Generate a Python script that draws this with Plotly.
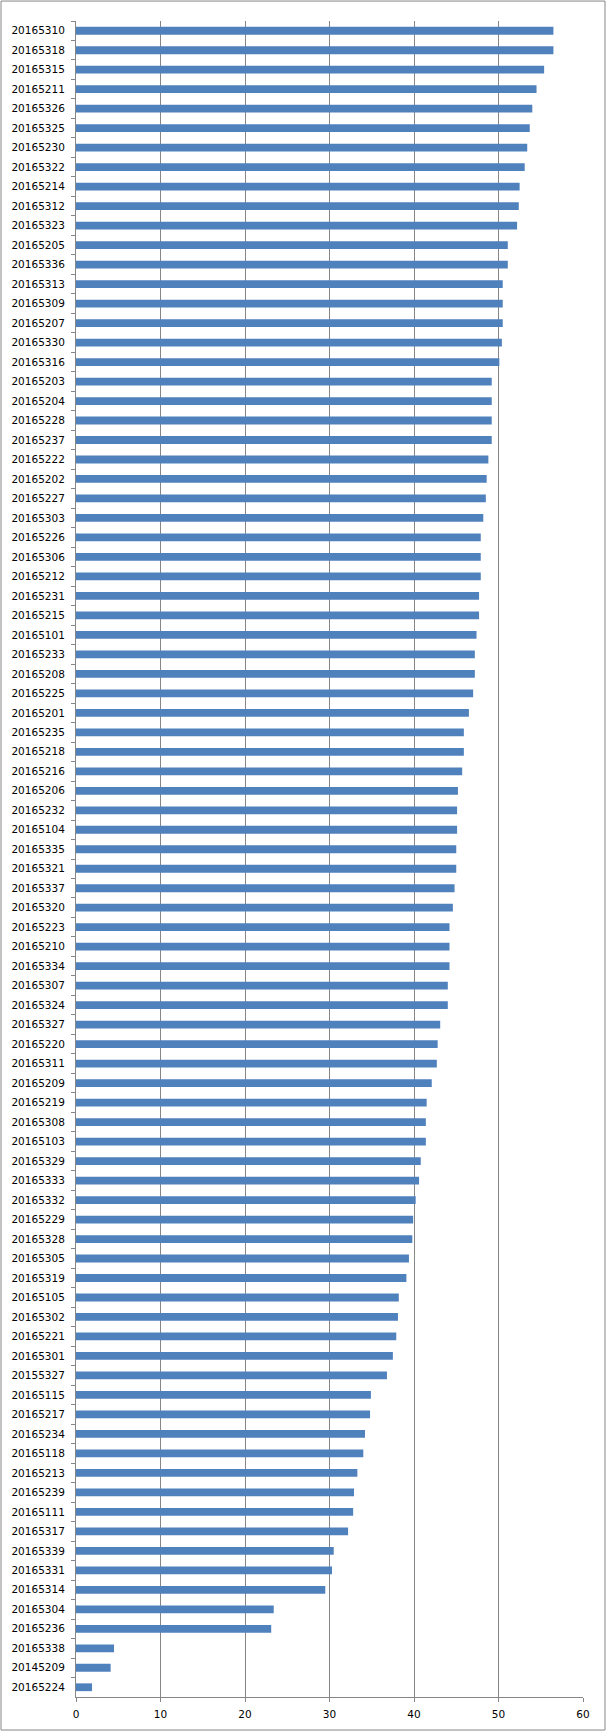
import plotly.graph_objects as go

# student ids, in the order they appear top to bottom
ids = [
    '20165310', '20165318', '20165315', '20165211', '20165326', '20165325',
    '20165230', '20165322', '20165214', '20165312', '20165323', '20165205',
    '20165336', '20165313', '20165309', '20165207', '20165330', '20165316',
    '20165203', '20165204', '20165228', '20165237', '20165222', '20165202',
    '20165227', '20165303', '20165226', '20165306', '20165212', '20165231',
    '20165215', '20165101', '20165233', '20165208', '20165225', '20165201',
    '20165235', '20165218', '20165216', '20165206', '20165232', '20165104',
    '20165335', '20165321', '20165337', '20165320', '20165223', '20165210',
    '20165334', '20165307', '20165324', '20165327', '20165220', '20165311',
    '20165209', '20165219', '20165308', '20165103', '20165329', '20165333',
    '20165332', '20165229', '20165328', '20165305', '20165319', '20165105',
    '20165302', '20165221', '20165301', '20155327', '20165115', '20165217',
    '20165234', '20165118', '20165213', '20165239', '20165111', '20165317',
    '20165339', '20165331', '20165314', '20165304', '20165236', '20165338',
    '20145209', '20165224',
]

scores = [
    56.5, 56.5, 55.4, 54.5, 54.0, 53.7,
    53.4, 53.1, 52.5, 52.4, 52.2, 51.1,
    51.1, 50.5, 50.5, 50.5, 50.4, 50.1,
    49.2, 49.2, 49.2, 49.2, 48.8, 48.6,
    48.5, 48.2, 47.9, 47.9, 47.9, 47.7,
    47.7, 47.4, 47.2, 47.2, 47.0, 46.5,
    45.9, 45.9, 45.7, 45.2, 45.1, 45.1,
    45.0, 45.0, 44.8, 44.6, 44.2, 44.2,
    44.2, 44.0, 44.0, 43.1, 42.8, 42.7,
    42.1, 41.5, 41.4, 41.4, 40.8, 40.6,
    40.2, 39.9, 39.8, 39.4, 39.1, 38.2,
    38.1, 37.9, 37.5, 36.8, 34.9, 34.8,
    34.2, 34.0, 33.3, 32.9, 32.8, 32.2,
    30.5, 30.3, 29.5, 23.4, 23.1, 4.5,
    4.1, 1.9,
]

x_ticks = [0, 10, 20, 30, 40, 50, 60]

grey = '#868686'

fig = go.Figure()
fig.add_trace(go.Bar(
    x=scores, y=ids, orientation='h',
    marker=dict(color='#4F81BD', line=dict(width=0)),
    width=0.4,
))

# excel style chart border round the whole picture
fig.add_shape(type='rect', xref='paper', yref='paper',
              x0=-0.1479, x1=1.0434, y0=-0.0197, y1=1.0119,
              line=dict(color=grey, width=1))

fig.update_layout(
    width=606, height=1731,
    margin=dict(l=76, r=23, t=21, b=34),
    paper_bgcolor='white', plot_bgcolor='white',
    font=dict(family='DejaVu Sans', size=10.5, color='black'),
    showlegend=False,
    xaxis=dict(
        range=[0, 60], tickvals=x_ticks,
        showgrid=True, gridcolor=grey, gridwidth=1,
        showline=True, linecolor=grey, linewidth=1,
        ticks='outside', ticklen=4, tickcolor=grey,
        ticklabelstandoff=3, zeroline=False,
    ),
    yaxis=dict(
        type='category', autorange='reversed',
        showgrid=False, showline=True, linecolor=grey, linewidth=1,
        ticks='outside', ticklen=4, tickcolor=grey, tickson='boundaries',
        ticklabelstandoff=8,
    ),
)

# drop the browser's default body margin so the chart sits at the page corner
fig.write_html('out.html', config={'displayModeBar': False},
               post_script="document.body.style.margin='0';")
